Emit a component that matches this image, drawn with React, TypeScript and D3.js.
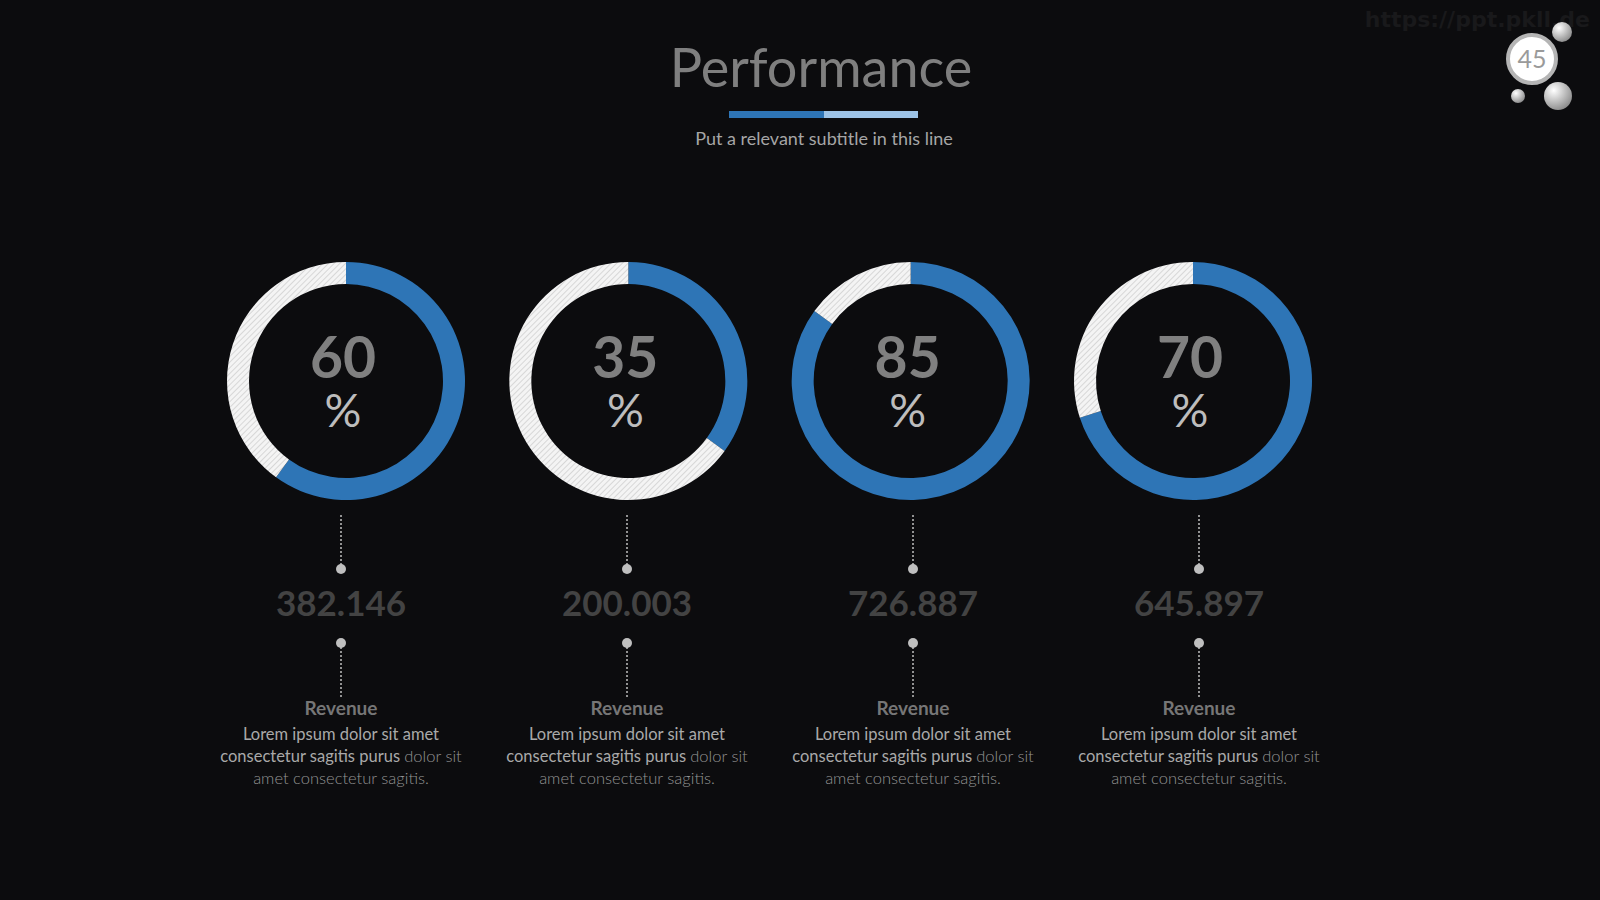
import React, { useEffect, useRef } from 'react';
import * as d3 from 'd3';

// Slide: four progress donuts with a figure and a caption under each.

const W = 1600;
const H = 900;

const percents = [60, 35, 85, 70];
const figures = ['382.146', '200.003', '726.887', '645.897'];
const captions = ['Revenue', 'Revenue', 'Revenue', 'Revenue'];
const bodyLine1 = 'Lorem ipsum dolor sit amet';
const bodyLine2a = 'consectetur sagitis purus ';
const bodyLine2b = 'dolor sit';
const bodyLine3 = 'amet consectetur sagitis.';

const TITLE = 'Performance';
const SUBTITLE = 'Put a relevant subtitle in this line';
const PAGE_NO = '45';
const WATERMARK = 'https://ppt.pkll.de';

const BG = '#0c0c0e';
const BLUE = '#2e75b6';
const LIGHT_BLUE = '#9dc3e6';
const FONT = 'Lato, "Open Sans", sans-serif';

const DONUT_Y = 381;
const OUTER_R = 119;
const INNER_R = 97;

const App = () => {
  const svgRef = useRef<SVGSVGElement | null>(null);

  useEffect(() => {
    const svg = d3.select(svgRef.current).attr('width', W).attr('height', H);
    svg.selectAll('*').remove();

    const defs = svg.append('defs');
    const hatch = defs
      .append('pattern')
      .attr('id', 'hatch')
      .attr('width', 4)
      .attr('height', 4)
      .attr('patternUnits', 'userSpaceOnUse')
      .attr('patternTransform', 'rotate(45)');
    hatch.append('rect').attr('width', 4).attr('height', 4).attr('fill', '#f4f4f4');
    hatch
      .append('line')
      .attr('x1', 0)
      .attr('y1', 0)
      .attr('x2', 0)
      .attr('y2', 4)
      .attr('stroke', '#c4c4c4')
      .attr('stroke-width', 1.2);

    const ball = defs
      .append('radialGradient')
      .attr('id', 'ball')
      .attr('cx', '35%')
      .attr('cy', '30%')
      .attr('r', '75%');
    ball.append('stop').attr('offset', '0%').attr('stop-color', '#ffffff');
    ball.append('stop').attr('offset', '100%').attr('stop-color', '#8a8a8a');

    svg.append('rect').attr('width', W).attr('height', H).attr('fill', BG);

    // Watermark + page badge.
    svg
      .append('text')
      .attr('x', 1590)
      .attr('y', 27)
      .attr('text-anchor', 'end')
      .attr('font-family', '"DejaVu Sans", sans-serif')
      .attr('font-weight', 'bold')
      .attr('font-size', '22px')
      .attr('fill', '#19191b')
      .text(WATERMARK);

    const balls = [
      { cx: 1562, cy: 32, r: 10 },
      { cx: 1518, cy: 96, r: 7 },
      { cx: 1558, cy: 96, r: 14 },
    ];
    svg
      .append('g')
      .selectAll('circle')
      .data(balls)
      .enter()
      .append('circle')
      .attr('cx', (d) => d.cx)
      .attr('cy', (d) => d.cy)
      .attr('r', (d) => d.r)
      .attr('fill', 'url(#ball)');
    svg
      .append('circle')
      .attr('cx', 1532)
      .attr('cy', 59)
      .attr('r', 24)
      .attr('fill', '#ffffff')
      .attr('stroke', '#b5b5b5')
      .attr('stroke-width', 4);
    svg
      .append('text')
      .attr('x', 1532)
      .attr('y', 68)
      .attr('text-anchor', 'middle')
      .attr('font-family', FONT)
      .attr('font-size', '25px')
      .attr('fill', '#9a9a9a')
      .text(PAGE_NO);

    // Title block.
    svg
      .append('text')
      .attr('x', 821)
      .attr('y', 87)
      .attr('text-anchor', 'middle')
      .attr('font-family', FONT)
      .attr('font-size', '54px')
      .attr('fill', '#7f7f7f')
      .text(TITLE);
    svg.append('rect').attr('x', 729).attr('y', 111).attr('width', 95).attr('height', 7).attr('fill', BLUE);
    svg.append('rect').attr('x', 824).attr('y', 111).attr('width', 94).attr('height', 7).attr('fill', LIGHT_BLUE);
    svg
      .append('text')
      .attr('x', 824)
      .attr('y', 145)
      .attr('text-anchor', 'middle')
      .attr('font-family', FONT)
      .attr('font-size', '18px')
      .attr('fill', '#a6a6a6')
      .text(SUBTITLE);

    const idx = d3.range(percents.length);
    const donutX = d3.scaleLinear().domain([0, percents.length - 1]).range([346, 1193]);
    const labelX = d3.scaleLinear().domain([0, percents.length - 1]).range([341, 1199]);

    const pie = d3
      .pie<number>()
      .sort(null)
      .value((d) => d);
    const arc = d3.arc<d3.PieArcDatum<number>>().innerRadius(INNER_R).outerRadius(OUTER_R);

    idx.forEach((i) => {
      const v = percents[i];
      const g = svg.append('g').attr('transform', `translate(${donutX(i)},${DONUT_Y})`);
      g.selectAll('path')
        .data(pie([v, 100 - v]))
        .enter()
        .append('path')
        .attr('d', arc)
        .attr('fill', (_d, j) => (j === 0 ? BLUE : 'url(#hatch)'));

      // Big number with its "%" on the line below, as one text block.
      const pct = g
        .append('text')
        .attr('text-anchor', 'middle')
        .attr('font-family', FONT);
      pct
        .append('tspan')
        .attr('x', -3)
        .attr('y', -3)
        .attr('font-weight', 'bold')
        .attr('font-size', '57px')
        .attr('fill', '#808080')
        .text(String(v));
      pct
        .append('tspan')
        .attr('x', -3)
        .attr('y', 46)
        .attr('font-size', '46px')
        .attr('fill', '#bdbdbd')
        .text('%');

      const cx = labelX(i);
      const col = svg.append('g');
      const connectors = [
        { y1: 515, y2: 567, dot: 569 },
        { y1: 643, y2: 697, dot: 643 },
      ];
      connectors.forEach((c) => {
        col
          .append('line')
          .attr('x1', cx)
          .attr('x2', cx)
          .attr('y1', c.y1)
          .attr('y2', c.y2)
          .attr('stroke', '#bfbfbf')
          .attr('stroke-width', 1.5)
          .attr('stroke-dasharray', '2,2');
        col.append('circle').attr('cx', cx).attr('cy', c.dot).attr('r', 5).attr('fill', '#bfbfbf');
      });

      col
        .append('text')
        .attr('x', cx)
        .attr('y', 616)
        .attr('text-anchor', 'middle')
        .attr('font-family', FONT)
        .attr('font-weight', 'bold')
        .attr('font-size', '35px')
        .attr('fill', '#434343')
        .text(figures[i]);

      col
        .append('text')
        .attr('x', cx)
        .attr('y', 715)
        .attr('text-anchor', 'middle')
        .attr('font-family', FONT)
        .attr('font-weight', 'bold')
        .attr('font-size', '19px')
        .attr('fill', '#767676')
        .text(captions[i]);

      const body = col
        .append('text')
        .attr('text-anchor', 'middle')
        .attr('font-family', FONT)
        .attr('font-size', '16.5px')
        .attr('fill', '#a9a9a9');
      body.append('tspan').attr('x', cx).attr('y', 740).text(bodyLine1);
      const l2 = body.append('tspan').attr('x', cx).attr('y', 762);
      l2.append('tspan').text(bodyLine2a);
      l2.append('tspan').attr('font-weight', 300).attr('fill', '#939393').text(bodyLine2b);
      body
        .append('tspan')
        .attr('x', cx)
        .attr('y', 784)
        .attr('font-weight', 300)
        .attr('fill', '#939393')
        .text(bodyLine3);
    });
  }, []);

  return <svg ref={svgRef} style={{ position: 'fixed', top: 0, left: 0, display: 'block' }} />;
};

export default App;
